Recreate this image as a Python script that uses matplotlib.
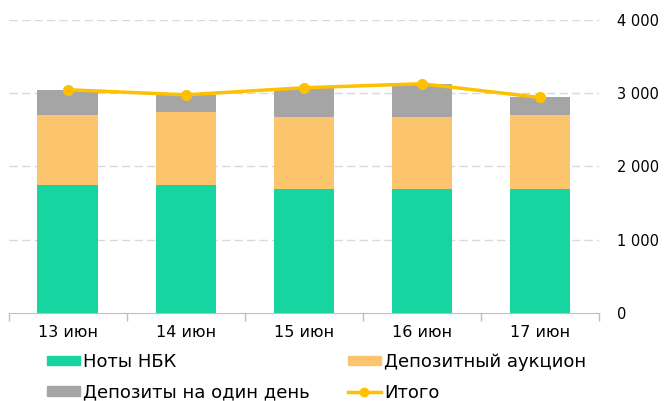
import matplotlib
matplotlib.use("Agg")
import matplotlib.pyplot as plt
import numpy as np
from matplotlib.lines import Line2D
from matplotlib.patches import Patch

categories = ["13 июн", "14 июн", "15 июн", "16 июн", "17 июн"]
notes = [1740, 1740, 1690, 1690, 1690]
auction = [959, 996, 987, 987, 1009]
overnight = [348, 242, 397, 452, 242]
total = [3047, 2978, 3074, 3129, 2941]
yticks = [0, 1000, 2000, 3000, 4000]
ytick_labels = ["0", "1 000", "2 000", "3 000", "4 000"]

c_green = "#17D5A0"
c_orange = "#FDC46E"
c_grey = "#A5A5A5"
c_line = "#FFC000"

plt.rcParams['font.family'] = ['DejaVu Sans']
fig = plt.figure(figsize=(6.65, 4.01), dpi=100)
ax = fig.add_axes([8.5/665, 1-312.7/401, (599-8.5)/665, (312.7-20)/401])

x = np.arange(len(categories))
w = 0.51
ax.bar(x, notes, w, color=c_green, zorder=3)
ax.bar(x, auction, w, bottom=notes, color=c_orange, zorder=3)
b2 = np.array(notes) + np.array(auction)
ax.bar(x, overnight, w, bottom=b2, color=c_grey, zorder=3)
ax.plot(x, total, color=c_line, lw=2.5, marker='o', ms=7, zorder=4)

ax.set_xlim(-0.5, len(categories) - 0.5)
ax.set_ylim(0, 4000)
ax.set_yticks(yticks)
ax.set_yticklabels(ytick_labels)
ax.yaxis.tick_right()
ax.tick_params(axis='y', length=0, pad=13, labelsize=10.5, labelcolor="#000000")
for yv in yticks[1:]:
    ax.axhline(yv, color="#D9D9D9", lw=1, ls=(0, (6, 3)), zorder=1)

ax.set_xticks(x)
ax.set_xticklabels(categories)
ax.tick_params(axis='x', length=0, pad=9, labelsize=11.5)
ax.set_xticks(np.arange(-0.5, len(categories), 1), minor=True)
ax.tick_params(axis='x', which='minor', length=6, color="#BFBFBF", width=1)

for s in ["top", "left", "right"]:
    ax.spines[s].set_visible(False)
ax.spines["bottom"].set_color("#BFBFBF")
ax.spines["bottom"].set_zorder(5)

handles = [
    Patch(color=c_green, label="Ноты НБК"),
    Patch(color=c_grey, label="Депозиты на один день"),
    Patch(color=c_orange, label="Депозитный аукцион"),
    Line2D([0], [0], color=c_line, lw=2.5, marker='o', ms=6, label="Итого"),
]
fig.legend(handles=handles, ncol=2, loc="upper left", bbox_to_anchor=(47/665, 1-353/401),
           frameon=False, fontsize=13, handlelength=1.85, handleheight=0.45,
           handletextpad=0.15, columnspacing=2.1, labelspacing=0.7, borderpad=0,
           borderaxespad=0)

fig.savefig("out.png", dpi=100)
